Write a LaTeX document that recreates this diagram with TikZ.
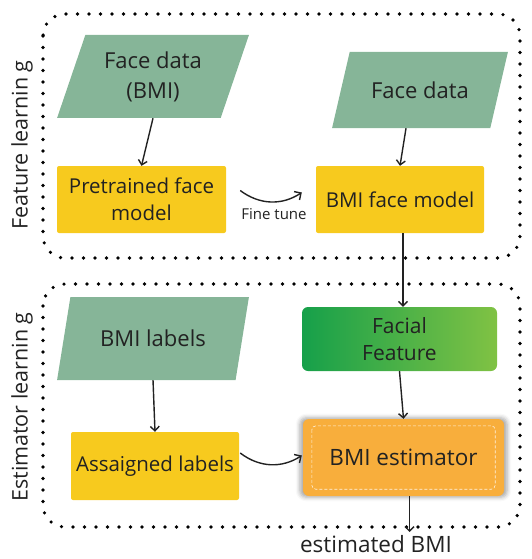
\documentclass[tikz,border=0pt]{standalone}
\usepackage{fontspec}
\setmainfont{Open Sans}
\usepackage{xcolor}
\usepackage{tikz}
\usetikzlibrary{arrows.meta,shapes.geometric,shadows.blur}

\definecolor{datagreen}{RGB}{134,181,152}
\definecolor{modelyellow}{RGB}{247,202,30}
\definecolor{featdark}{RGB}{22,160,74}
\definecolor{featlight}{RGB}{128,194,68}
\definecolor{estorange}{RGB}{248,174,60}
\definecolor{inkgray}{RGB}{34,34,34}

\begin{document}
\begin{tikzpicture}[x=1pt,y=-1pt,
  data/.style={trapezium, trapezium stretches=true, fill=datagreen, text=inkgray, align=center, font=\fontsize{22}{30}\selectfont},
  model/.style={rectangle, fill=modelyellow, text=inkgray, align=center, rounded corners=2pt, font=\fontsize{20.5}{27}\selectfont},
  feature/.style={rectangle, rounded corners=6pt, left color=featdark, right color=featlight, text=inkgray, align=center, font=\fontsize{21}{27}\selectfont},
  estimator/.style={rectangle, rounded corners=6pt, fill=estorange, text=inkgray, font=\fontsize{22.5}{27}\selectfont,
    blur shadow={shadow xshift=0pt, shadow yshift=0pt, shadow scale=1.03, shadow blur radius=4pt, shadow opacity=35}},
  group/.style={line width=3.6pt, dash pattern=on 0pt off 11.5pt, line cap=round, rounded corners=22pt},
  side/.style={rotate=90, text=inkgray, font=\fontsize{21.5}{26}\selectfont},
  link/.style={-{Straight Barb[length=4.5pt,width=9pt]}, line width=1.4pt, inkgray},
  bendlink/.style={-{Straight Barb[length=5pt,width=10pt]}, line width=1.4pt, inkgray}]
\useasboundingbox (0,0) rectangle (531,559);

% groups
\draw[group] (43,14) rectangle (520,258);
\draw[group] (43,284) rectangle (520,527);
\node[side] (featlabel) at (22,145) {Feature learnin g};
\node[side] (estlabel) at (22,407) {Estimator learnin g};

% feature learning
\node[data, trapezium left angle=69, trapezium right angle=111, minimum width=192pt, minimum height=83pt] (facebmi) at (153,76.5) {Face data\\(BMI)};
\node[data, trapezium left angle=61, trapezium right angle=119, minimum width=176pt, minimum height=76pt] (facedata) at (420,90) {Face data};
\node[model, minimum width=169pt, minimum height=67pt] (pretrained) at (141.5,199.5) {Pretrained face\\model};
\node[model, minimum width=168pt, minimum height=67pt] (bmimodel) at (400,199.5) {BMI face model};
\node[font=\fontsize{15}{18}\selectfont, text=inkgray] (finetune) at (274,214) {Fine tune};

% estimator learning
\node[data, trapezium left angle=69, trapezium right angle=111, minimum width=192pt, minimum height=83pt] (bmilabels) at (153,338.5) {BMI labels};
\node[feature, minimum width=195pt, minimum height=64pt] (facial) at (399.5,339) {Facial\\Feature};
\node[model, minimum width=168pt, minimum height=68pt] (assigned) at (155,466) {Assaigned labels};
\node[estimator, minimum width=201pt, minimum height=77pt] (estimator) at (403.5,457.5) {BMI estimator};
\draw[white!85!estorange, dash pattern=on 3pt off 2pt, line width=0.6pt, rounded corners=4pt]
  ([shift={(9pt,-7pt)}]estimator.north west) rectangle ([shift={(-9pt,7pt)}]estimator.south east);
\coordinate (result) at (409.5,532);
\node[anchor=base, inner sep=1pt, text=inkgray, font=\fontsize{22.5}{27}\selectfont] (estbmi) at (376,552.5) {estimated BMI};

% connectors
\draw[link] (facebmi.south) -- (pretrained.north);
\draw[link] ([xshift=-14pt]facedata.south) -- (bmimodel.north);
\draw[bendlink] ([xshift=14pt,yshift=9pt]pretrained.east) to[bend right=35] ([xshift=-14pt,yshift=7pt]bmimodel.west);
\draw[link] ([xshift=3pt]bmimodel.south) -- ([xshift=3.5pt]facial.north);
\draw[link] (bmilabels.south) -- (assigned.north);
\draw[link] (facial.south) -- (estimator.north);
\draw[bendlink] ([xshift=1pt,yshift=13pt]assigned.east) to[bend right=35] ([xshift=-1pt,yshift=2pt]estimator.west);
\draw[link] ([xshift=6pt]estimator.south) -- (result);
\end{tikzpicture}
\end{document}
